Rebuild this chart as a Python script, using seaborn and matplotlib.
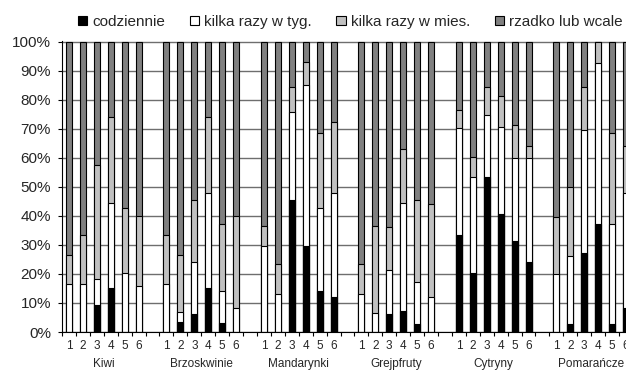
import numpy as np
import pandas as pd
import matplotlib
matplotlib.use("Agg")
import matplotlib.pyplot as plt
import seaborn as sns
from matplotlib.patches import Patch

# ---- data ----
groups = ["Kiwi", "Brzoskwinie", "Mandarynki", "Grejpfruty", "Cytryny", "Pomarańcze"]
bar_labels = ["1", "2", "3", "4", "5", "6"]
series = ["codziennie", "kilka razy w tyg.", "kilka razy w mies.", "rzadko lub wcale"]

codziennie = [0, 0, 9.4, 15.1, 0, 0,
              0, 3.4, 6.3, 15.1, 3.1, 0,
              0, 0, 45.6, 29.6, 14.2, 12.2,
              0, 0, 6.2, 7.3, 2.9, 0,
              33.6, 20.2, 53.4, 40.8, 31.5, 24.2,
              0, 2.9, 27.4, 37.2, 2.9, 8.2]
kilka_tyg = [16.6, 16.6, 8.8, 29.3, 20.2, 16.0,
             16.6, 3.5, 17.9, 32.8, 11.1, 8.2,
             29.7, 13.2, 30.3, 55.5, 28.6, 35.7,
             13.2, 6.7, 15.2, 37.0, 14.5, 12.0,
             36.6, 33.2, 21.5, 29.8, 28.5, 35.8,
             20.0, 23.4, 42.2, 55.4, 34.2, 39.7]
kilka_mies = [9.9, 16.8, 39.4, 29.8, 22.6, 24.0,
              16.8, 19.6, 21.4, 26.3, 23.0, 31.8,
              6.9, 10.1, 8.6, 7.8, 25.7, 24.4,
              10.1, 29.9, 14.9, 18.8, 28.2, 32.0,
              6.4, 6.9, 9.4, 10.8, 11.4, 4.0,
              19.7, 23.7, 14.9, 7.4, 31.4, 16.1]
rzadko = [73.5, 66.6, 42.4, 25.8, 57.2, 60.0,
          66.6, 73.5, 54.4, 25.8, 62.8, 60.0,
          63.4, 76.7, 15.5, 7.1, 31.5, 27.7,
          76.7, 63.4, 63.7, 36.9, 54.4, 56.0,
          23.4, 39.7, 15.7, 18.6, 28.6, 36.0,
          60.3, 50.0, 15.5, 0.0, 31.5, 36.0]

colors = ["#000000", "#ffffff", "#c0c0c0", "#808080"]

sns.set_theme(style="white")
plt.rcParams['font.family'] = ['Liberation Sans', 'DejaVu Sans']

slot = 7
pos = [g * slot + k for g in range(len(groups)) for k in range(len(bar_labels))]
vals = np.array([codziennie, kilka_tyg, kilka_mies, rzadko]) / 100.0
cum = np.cumsum(vals, axis=0)

W, H = 626, 374
fig = plt.figure(figsize=(W / 100, H / 100), dpi=100)
ax = fig.add_axes([62 / W, (H - 332) / H, 1 - 62 / W, (332 - 41) / H])

for i in range(3, -1, -1):
    df = pd.DataFrame({"x": pos, "y": cum[i]})
    sns.barplot(data=df, x="x", y="y", native_scale=True, width=0.43,
                color=colors[i], saturation=1, edgecolor="black",
                linewidth=0.8, errorbar=None, ax=ax)

ax.set_xlim(-0.5, 39.96)
ax.set_ylim(0, 1.003)
ax.set_xlabel("")
ax.set_ylabel("")

yt = np.round(np.arange(0, 1.01, 0.1), 2)
ax.set_yticks(yt)
ax.set_yticklabels([f"{int(round(v * 100))}%" for v in yt], fontsize=11)
ax.yaxis.grid(True, color="#6e6e6e", linewidth=1.0)
ax.set_axisbelow(True)
ax.tick_params(axis="y", length=3, width=0.8, pad=5, color="black", direction="out", left=True)

ax.set_xticks(pos)
ax.set_xticklabels(bar_labels * len(groups), fontsize=8.5)
ax.set_xticks(np.arange(-0.5, 40.5, 1), minor=True)
ax.tick_params(axis="x", which="major", length=0, pad=6)
ax.tick_params(axis="x", which="minor", length=3, width=0.8, color="black", direction="out", bottom=True)

for s in ["top", "right"]:
    ax.spines[s].set_visible(False)
for s in ["left", "bottom"]:
    ax.spines[s].set_color("black")
    ax.spines[s].set_linewidth(0.8)

for g, name in enumerate(groups):
    ax.annotate(name, xy=(g * slot + 2.5, 0), xycoords=("data", "axes fraction"),
                xytext=(0, -25.2), textcoords="offset points",
                ha="center", va="baseline", fontsize=8.5, annotation_clip=False)

handles = [Patch(facecolor=c, edgecolor="black", linewidth=0.8) for c in colors]
fig.legend(handles, series, loc="center left", bbox_to_anchor=(78 / W, 1 - 22 / H),
           ncol=4, frameon=False, fontsize=11, handlelength=0.6, handleheight=0.6,
           handletextpad=0.35, columnspacing=1.6, borderpad=0, borderaxespad=0)

fig.savefig("out.png", dpi=100)
